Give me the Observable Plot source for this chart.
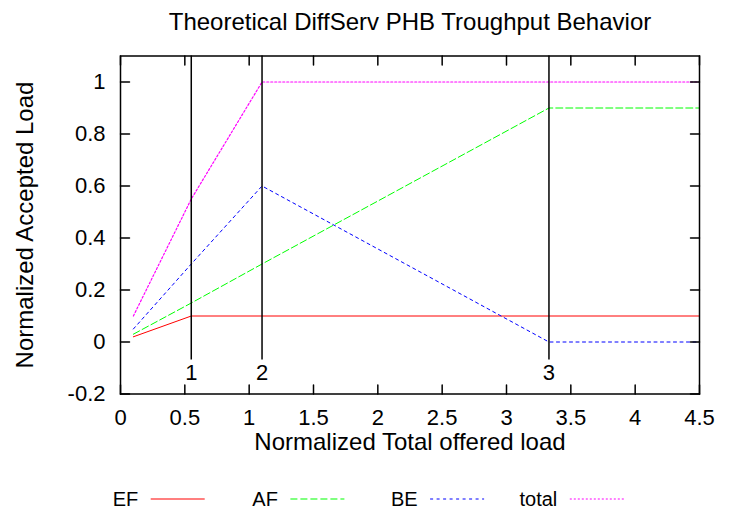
<!DOCTYPE html>
<html><head><meta charset="utf-8">
<script src="https://cdn.jsdelivr.net/npm/d3@7"></script>
<script src="https://cdn.jsdelivr.net/npm/@observablehq/plot@0.6"></script>
<style>
body{margin:0;background:#fff;}
#wrap{position:relative;width:738px;height:510px;font-family:"Liberation Sans",Arial,sans-serif;}
#legend{position:absolute;left:0;top:0;}
</style></head><body><div id="wrap"></div>
<script>
// ---- data ----
const xLoad = [0.1, 0.55, 1.1, 3.33, 4.5];
const ef    = [0.02, 0.1, 0.1, 0.1, 0.1];
const af    = [0.03, 0.15, 0.3, 0.9, 0.9];
const be    = [0.05, 0.3, 0.6, 0, 0];
const total = [0.1, 0.55, 1.0, 1.0, 1.0];
const seriesNames  = ["EF", "AF", "BE", "total"];
const seriesValues = [ef, af, be, total];
const seriesColors = ["#ff0000", "#00ff00", "#0000ff", "#ff00ff"];
const seriesDash   = [null, "7,3", "3,3.5", "2,2"];
const seriesWidth  = [1, 1, 1, 1.2];
const markerX      = [0.55, 1.1, 3.33];
const markerLabels = ["1", "2", "3"];
const xTicks = [0, 0.5, 1, 1.5, 2, 2.5, 3, 3.5, 4, 4.5];
const yTicks = [-0.2, 0, 0.2, 0.4, 0.6, 0.8, 1];
const titleText = "Theoretical DiffServ PHB Troughput Behavior";
const xLabel = "Normalized Total offered load";
const yLabel = "Normalized Accepted Load";

const rows = seriesNames.flatMap((s, k) => xLoad.map((x, i) => ({s, x, y: seriesValues[k][i]})));
const markers = markerX.map((x, i) => ({x, label: markerLabels[i]}));

const tickShape = {draw(ctx, l) { ctx.moveTo(0, 0); ctx.lineTo(0, -l); }};
const tickOpts = {length: 9, anchor: "start", shape: tickShape, stroke: "black", strokeWidth: 1.5};

const chart = Plot.plot({
  width: 738, height: 510,
  marginLeft: 120, marginRight: 39, marginTop: 55.5, marginBottom: 116.5,
  style: {fontFamily: '"Liberation Sans", Arial, sans-serif', background: "white", color: "black"},
  x: {domain: [0, 4.5]},
  y: {domain: [-0.2, 1.1]},
  marks: [
    ...seriesNames.map((s, k) => Plot.line(rows.filter(d => d.s === s), {
      x: "x", y: "y", stroke: seriesColors[k], strokeWidth: seriesWidth[k],
      strokeDasharray: seriesDash[k] || undefined
    })),
    Plot.ruleX(markers, {x: "x", stroke: "black", strokeWidth: 1.5, insetBottom: 34}),
    Plot.text(markers, {x: "x", text: "label", frameAnchor: "bottom", dy: -21, lineAnchor: "middle", fontSize: 22, fill: "black"}),
    Plot.vector(xTicks, {x: d => d, frameAnchor: "bottom", rotate: 0, ...tickOpts}),
    Plot.vector(xTicks, {x: d => d, frameAnchor: "top", rotate: 180, ...tickOpts}),
    Plot.vector(yTicks, {y: d => d, frameAnchor: "left", rotate: 90, ...tickOpts}),
    Plot.vector(yTicks, {y: d => d, frameAnchor: "right", rotate: -90, ...tickOpts}),
    Plot.frame({stroke: "black", strokeWidth: 1.5}),
    Plot.axisX({ticks: xTicks, tickSize: 0, tickPadding: 15, fontSize: 22, label: null, tickFormat: d => String(d)}),
    Plot.axisY({ticks: yTicks, tickSize: 0, tickPadding: 15, fontSize: 22, label: null, tickFormat: d => String(d)}),
    Plot.text([titleText], {text: d => d, frameAnchor: "top", dy: -26.5, lineAnchor: "bottom", textAnchor: "middle", fontSize: 24, fill: "black"}),
    Plot.text([xLabel], {text: d => d, frameAnchor: "bottom", dy: 56, lineAnchor: "bottom", textAnchor: "middle", fontSize: 24, fill: "black"}),
    Plot.text([yLabel], {text: d => d, frameAnchor: "left", dx: -88, rotate: -90, lineAnchor: "bottom", textAnchor: "middle", fontSize: 24, fill: "black"})
  ]
});
const wrap = document.getElementById("wrap");
wrap.appendChild(chart);

// ---- legend (below plot area) ----
const leg = d3.select(wrap).append("svg").attr("id", "legend").attr("width", 738).attr("height", 510);
seriesNames.forEach((s, k) => {
  const x0 = 150.7 + 139.7 * k;
  leg.append("text").attr("x", x0 - 12.5).attr("y", 499).attr("dy", "0.35em")
    .attr("text-anchor", "end").attr("font-size", 20)
    .attr("font-family", '"Liberation Sans", Arial, sans-serif').text(s);
  leg.append("line").attr("x1", x0).attr("x2", x0 + 54).attr("y1", 499).attr("y2", 499)
    .attr("stroke", seriesColors[k]).attr("stroke-width", 1.2)
    .attr("stroke-dasharray", seriesDash[k]);
});
</script></body></html>
